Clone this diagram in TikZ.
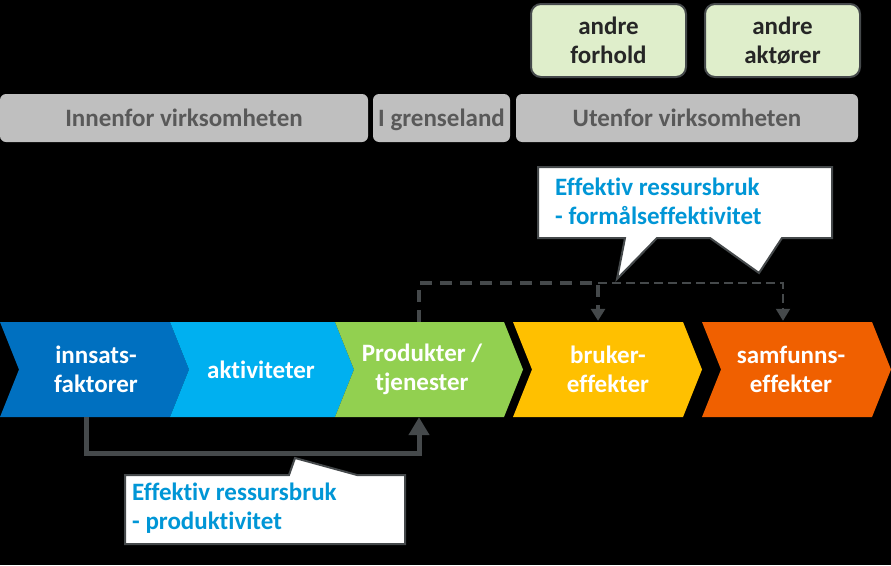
\documentclass[tikz,border=0pt]{standalone}
\usepackage{fontspec}
\setmainfont{Carlito}[Ligatures=NoCommon]
\usetikzlibrary{arrows.meta,calc}
\definecolor{cA}{HTML}{0070C0}
\definecolor{cB}{HTML}{00B0F0}
\definecolor{cC}{HTML}{92D050}
\definecolor{cD}{HTML}{FFC000}
\definecolor{cE}{HTML}{F06000}
\definecolor{lineg}{HTML}{45494B}
\definecolor{boxg}{HTML}{BFBFBF}
\definecolor{txtg}{HTML}{595959}
\definecolor{lgreen}{HTML}{DFEECB}
\definecolor{callblue}{HTML}{0096D6}
\newcommand\chevshape[3]{\fill[#3] (#1,322) -- (#2,322) -- ({#2+19},369.5) -- (#2,417) -- (#1,417) -- ({#1+19},369.5) -- cycle;}
\begin{document}
\begin{tikzpicture}[x=1pt,y=-1pt,
  bigfont/.style={font=\fontsize{25}{29}\selectfont\bfseries},
  chevtext/.style={bigfont, text=white, align=center, minimum width=140pt, minimum height=95pt, inner sep=0pt},
  graybox/.style={bigfont, fill=boxg, text=txtg, rounded corners=6pt, inner sep=0pt, text height=20pt, text depth=3pt, minimum height=48pt},
  greenbox/.style={bigfont, fill=lgreen, draw=lineg, line width=2pt, text=black!85, align=center, rounded corners=10pt, inner sep=0pt, minimum width=155pt, minimum height=73pt},
  callshape/.style={fill=white, draw=lineg, line width=2pt, line join=miter},
  calltext/.style={bigfont, text=callblue, align=left, inner sep=0pt, anchor=north west},
  solidconn/.style={draw=lineg, line width=5pt, -{Triangle[width=20pt,length=18pt]}},
  thickdash/.style={draw=lineg, line width=3.5pt, dash pattern=on 12pt off 8pt, -{Triangle[width=14pt,length=12pt]}},
  thindash/.style={draw=lineg, line width=2pt, dash pattern=on 9pt off 5pt, -{Triangle[width=14pt,length=12pt]}}]
\fill[black] (0,0) rectangle (891,565);
\useasboundingbox (0,0) rectangle (891,565);

% top boxes
\node[greenbox] (ga) at (608.5,40.5) {andre\\forhold};
\node[greenbox] (gb) at (782.5,40.5) {andre\\aktører};
\node[graybox, minimum width=368pt] (g1) at (184,118) {Innenfor virksomheten};
\node[graybox, minimum width=137pt] (g2) at (441.5,118) {I grenseland};
\node[graybox, minimum width=342pt] (g3) at (687,118) {Utenfor virksomheten};

% chevrons
\chevshape{0}{170}{cA}
\chevshape{170}{335}{cB}
\chevshape{335}{504}{cC}
\chevshape{513}{683}{cD}
\chevshape{702}{872}{cE}
\node[chevtext] (c1) at (96,369.5) {innsats-\\faktorer};
\node[chevtext] (c2) at (261,369.5) {aktiviteter};
\node[chevtext] (c3) at (422,369.5) {Produkter /\\tjenester};
\node[chevtext] (c4) at (608,369.5) {bruker-\\effekter};
\node[chevtext] (c5) at (791,369.5) {samfunns-\\effekter};

% connectors
\draw[solidconn] ($(c1.south)+(-10,0)$) -- ++(0,36) -| ($(c3.south)+(-3,0)$);
\coordinate (k) at ($(c4.north)+(-10,-39)$);
\draw[thindash] (k) -| ($(c5.north)+(-8,-1)$);
\draw[thickdash] ($(c3.north)+(-3,0)$) |- (k) -- ($(c4.north)+(-10,-1)$);

% callouts
\path[callshape] (538,167) -- (832,167) -- (832,238) -- (782,238) -- (759,273) -- (710,238)
  -- (657,238) -- (617,279) -- (625,238) -- (538,238) -- cycle;
\node[calltext] (t1) at (555,178) {Effektiv ressursbruk\\- formålseffektivitet};
\path[callshape] (125,475) -- (289,475) -- (295,458) -- (357,475) -- (405,475) -- (405,544)
  -- (125,544) -- cycle;
\node[calltext] (t2) at (132,483) {Effektiv ressursbruk\\- produktivitet};
\end{tikzpicture}
\end{document}
